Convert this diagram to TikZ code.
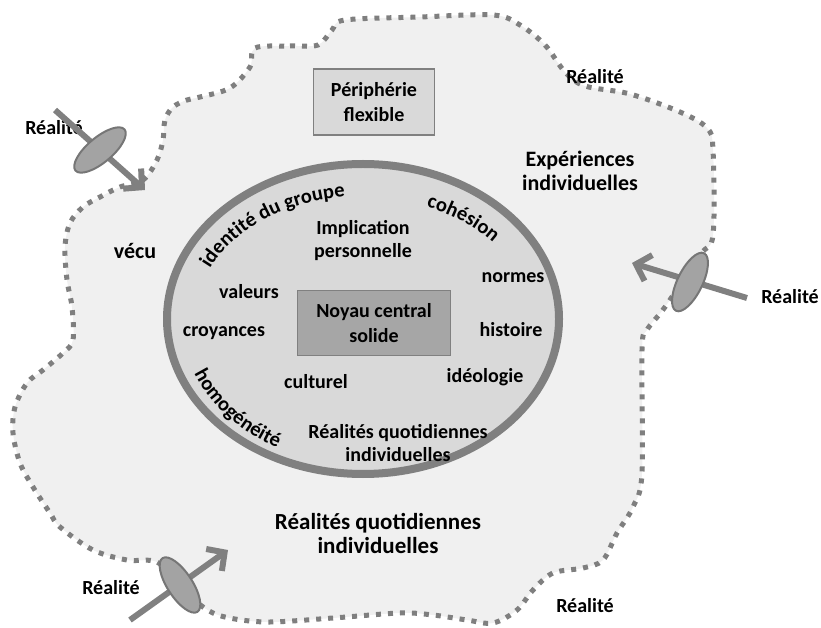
\documentclass[tikz,border=0pt]{standalone}
\usepackage{fontspec}
\setmainfont{Carlito}
\usetikzlibrary{shapes.geometric,arrows.meta,decorations.text,calc}

\definecolor{zonefill}{HTML}{F0F0F0}
\definecolor{zoneline}{HTML}{7F7F7F}
\definecolor{corefill}{HTML}{D9D9D9}
\definecolor{coreline}{HTML}{808080}
\definecolor{darkfill}{HTML}{A6A6A6}
\definecolor{arrowgray}{HTML}{808080}
\definecolor{diskfill}{HTML}{A3A3A3}
\definecolor{diskline}{HTML}{767676}

\newcommand{\curvefont}{\bfseries\fontsize{20.5}{20}\selectfont}

\begin{document}
\begin{tikzpicture}[x=1pt,y=1pt,
    word/.style={font=\bfseries\fontsize{20}{23}\selectfont,align=center,inner sep=0},
    bigword/.style={font=\bfseries\fontsize{22}{24}\selectfont,align=center,inner sep=0},
    realite/.style={font=\bfseries\fontsize{20}{22}\selectfont,inner sep=0},
    boxed/.style={draw=coreline,line width=1.5pt,align=center,inner sep=0,
                  font=\bfseries\fontsize{20}{25}\selectfont},
    realarrow/.style={draw=arrowgray,line width=6pt,
                      -{Straight Barb[length=13pt,width=27pt,line width=6pt]}},
    disk/.style={ellipse,draw=diskline,fill=diskfill,line width=2pt,
                 inner sep=0,minimum width=64,minimum height=25}]
  \useasboundingbox (0,0) rectangle (821,627);

  % zone flexible
  \draw[fill=zonefill,draw=zoneline,line width=5pt,dash pattern=on 5pt off 7pt]
    plot[smooth cycle,tension=0.55] coordinates {
      (255,579) (290,581) (318,582) (332,597) (345,607) (420,610) (493,612)
      (520,602) (545,582) (565,555) (585,541) (630,533) (680,515) (707,499)
      (713,477) (713,392) (700,372) (665,320) (647,297) (642,277) (642,154)
      (633,120) (617,94) (603,67) (583,59) (553,54) (533,37) (517,17)
      (493,4) (467,7) (433,12) (400,14) (333,9) (267,5) (225,10) (203,20)
      (180,42) (157,65) (127,67) (93,77) (60,100) (50,114) (33,140) (20,164)
      (13,194) (15,220) (27,244) (43,257) (63,274) (73,287) (72,320) (67,347)
      (65,380) (70,404) (83,420) (100,430) (120,440) (143,447) (157,467)
      (163,487) (165,507) (173,520) (187,527) (200,530) (230,539) (250,560)};

  % noyau
  \coordinate (core) at (363,308);
  \draw[fill=corefill,draw=coreline,line width=8pt]
    (core) ellipse [x radius=196,y radius=155];

  % textes courbes
  \coordinate (idstart) at ($(core)+(165:168 and 123)$);
  \coordinate (costart) at ($(core)+(78:168 and 121)$);
  \coordinate (hostart) at ($(core)+(190:182 and 146)$);
  \path[decorate,decoration={text along path,text align=center,
        text={|\curvefont|identité du groupe}}]
    (idstart) arc[start angle=165,end angle=89,x radius=168,y radius=123];
  \path[decorate,decoration={text along path,text align=center,
        text={|\curvefont|cohésion}}]
    (costart) arc[start angle=78,end angle=27,x radius=168,y radius=121];
  \path[decorate,decoration={text along path,text align=center,
        text={|\curvefont|homogénéité}}]
    (hostart) arc[start angle=190,end angle=252,x radius=182,y radius=146];

  % boites
  \node[boxed,fill=corefill,minimum width=121,minimum height=66]
    (periph) at (374,525) {Périphérie\\flexible};
  \node[boxed,fill=darkfill,minimum width=153,minimum height=65]
    (noyau) at (374,304) {Noyau central\\solide};

  % mots du noyau
  \node[word] (implic) at (363,386) {Implication\\personnelle};
  \node[word] (valeurs) at (249,335) {valeurs};
  \node[word] (croy) at (224,294) {croyances};
  \node[word] (cult) at (316,245) {culturel};
  \node[word] (ideo) at (485,250) {idéologie};
  \node[word] (hist) at (511,297) {histoire};
  \node[word] (normes) at (513,349) {normes};
  \node[word] (quotin) at (398,184) {Réalités quotidiennes\\individuelles};

  % mots de la zone
  \node[bigword] (vecu) at (135,376) {vécu};
  \node[bigword] (exper) at (580,456) {Expériences\\individuelles};
  \node[bigword,font=\bfseries\fontsize{23}{24}\selectfont]
    (quotout) at (378,94) {Réalités quotidiennes\\individuelles};

  % réalités
  \node[realite] (realtl) at (54,499) {Réalité};
  \node[realite] (realtr) at (595,550) {Réalité};
  \node[realite] (realr) at (790,330) {Réalité};
  \node[realite] (realbl) at (111,39) {Réalité};
  \node[realite] (realbr) at (585,21) {Réalité};

  % flèches
  \coordinate (tlfrom) at (55,517);
  \coordinate (tlto) at (145,437);
  \coordinate (rfrom) at (747,329);
  \coordinate (rto) at (632,364);
  \coordinate (blfrom) at (130,7);
  \coordinate (blto) at (228,77);
  \draw[realarrow] (tlfrom) -- (tlto);
  \draw[realarrow] (rfrom) -- (rto);
  \draw[realarrow] (blfrom) -- (blto);
  \node[disk,rotate=40] (disktl) at (100,477) {};
  \node[disk,rotate=64] (diskr) at (690,345) {};
  \node[disk,rotate=123] (diskbl) at (180,42) {};
\end{tikzpicture}
\end{document}
